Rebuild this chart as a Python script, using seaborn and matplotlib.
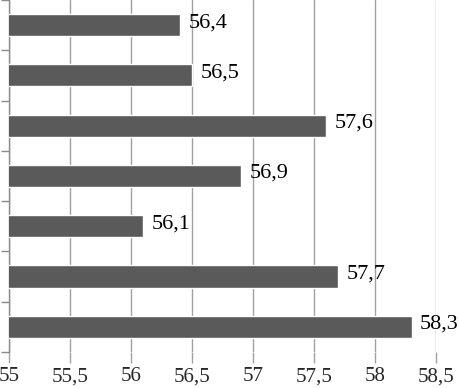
import matplotlib
matplotlib.use("Agg")
import matplotlib.pyplot as plt
import seaborn as sns
import pandas as pd
import numpy as np

# data, top to bottom
categories = ["1", "2", "3", "4", "5", "6", "7"]
values = [56.4, 56.5, 57.6, 56.9, 56.1, 57.7, 58.3]
xticks = [55, 55.5, 56, 56.5, 57, 57.5, 58, 58.5]

df = pd.DataFrame({"cat": categories, "val": values})

sns.set_style("white")
plt.rcParams["font.family"] = ["Liberation Serif", "DejaVu Serif"]

fig = plt.figure(figsize=(4.6, 3.88), dpi=100)
ax = fig.add_axes([0.0196, 0.093, 0.928, 0.907])

sns.barplot(data=df, x="val", y="cat", orient="h", color="#5a5a5a",
            width=0.44, saturation=1, ax=ax, zorder=3)

ax.set_xlim(55, 58.5)
ax.set_ylim(len(categories) - 0.5, -0.5)
ax.set_xticks(xticks)
ax.set_xticklabels([str(t).replace(".", ",").replace(",0", "") for t in xticks],
                   fontsize=15)
ax.set_yticks([])
ax.set_yticks(np.arange(-0.5, len(categories)), minor=True)
ax.tick_params(axis="y", which="minor", length=6, color="#8a8a8a", width=1,
               left=True, direction="out")
ax.tick_params(axis="x", length=8, color="#a0a0a0", width=1, direction="out",
               bottom=True, pad=3)
ax.grid(axis="x", color="#a0a0a0", linewidth=1, zorder=0)
ax.set_axisbelow(True)
ax.set_xlabel("")
ax.set_ylabel("")

for s in ["top", "right", "bottom"]:
    ax.spines[s].set_visible(False)
ax.spines["left"].set_color("#8a8a8a")
ax.spines["left"].set_linewidth(1)

for i, v in enumerate(values):
    ax.text(v + 0.07, i - 0.05, str(v).replace(".", ","), fontsize=16,
            va="center", ha="left", color="black")

fig.savefig("out.png", dpi=100)
